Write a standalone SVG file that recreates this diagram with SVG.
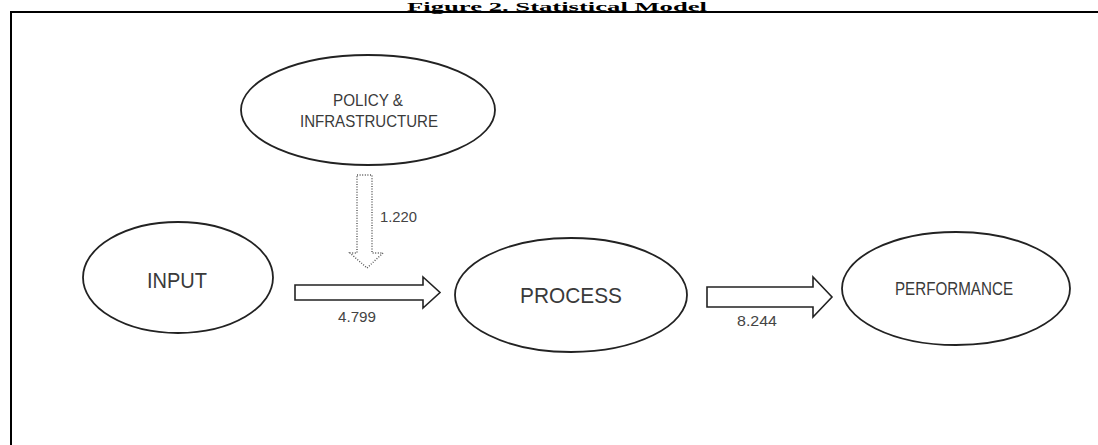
<svg xmlns="http://www.w3.org/2000/svg" width="1098" height="445" viewBox="0 0 1098 445">
<style>
.node ellipse{fill:#fff;stroke:#222;stroke-width:1.8}
.lbl{font-family:"Liberation Sans",Arial,sans-serif;fill:#3a3a3a;text-anchor:middle}
.num{font-family:"Liberation Sans",Arial,sans-serif;fill:#444;font-size:14px}
.blk{fill:#fff;stroke:#222;stroke-width:1.6;stroke-linejoin:miter}
.dot{fill:#fff;stroke:#555;stroke-width:1.4;stroke-dasharray:1 1.6}
</style>
<rect width="1098" height="445" fill="#fff"/>
<text x="557" y="10.5" font-family="'Liberation Serif','Times New Roman',serif" font-weight="bold" font-size="13.5" text-anchor="middle" textLength="300" lengthAdjust="spacingAndGlyphs" fill="#000">Figure 2. Statistical Model</text>
<g id="frame" fill="none" stroke="#000" stroke-width="2">
<path d="M11 445 V12 H1098"/>
</g>
<g id="policy" class="node">
<ellipse cx="368" cy="110" rx="127" ry="55"/>
<text class="lbl" x="368" y="106" font-size="17" textLength="70" lengthAdjust="spacingAndGlyphs">POLICY &amp;</text>
<text class="lbl" x="369" y="127" font-size="17" textLength="138" lengthAdjust="spacingAndGlyphs">INFRASTRUCTURE</text>
</g>
<g id="input" class="node">
<ellipse cx="178" cy="277.5" rx="95" ry="55.5"/>
<text class="lbl" x="177" y="288" font-size="22" textLength="60" lengthAdjust="spacingAndGlyphs">INPUT</text>
</g>
<g id="process" class="node">
<ellipse cx="571" cy="295" rx="116" ry="57"/>
<text class="lbl" x="571" y="303" font-size="22" textLength="102" lengthAdjust="spacingAndGlyphs">PROCESS</text>
</g>
<g id="performance" class="node">
<ellipse cx="956" cy="288.5" rx="114" ry="56.5"/>
<text class="lbl" x="954" y="295" font-size="18" textLength="118" lengthAdjust="spacingAndGlyphs">PERFORMANCE</text>
</g>
<g id="connectors">
<polygon class="dot" points="357,175 372,175 372,253 383,253 367,268 350,253 357,253"/>
<text class="num" x="380" y="222" textLength="37" lengthAdjust="spacingAndGlyphs">1.220</text>
<polygon class="blk" points="295,285 423,285 423,277 440,292.5 423,308 423,300 295,300"/>
<text class="num" x="357" y="322" text-anchor="middle" textLength="38" lengthAdjust="spacingAndGlyphs">4.799</text>
<polygon class="blk" points="707,287 813,287 813,277 832,297 813,317 813,307 707,307"/>
<text class="num" x="757" y="326" text-anchor="middle" textLength="40" lengthAdjust="spacingAndGlyphs">8.244</text>
</g>
</svg>
